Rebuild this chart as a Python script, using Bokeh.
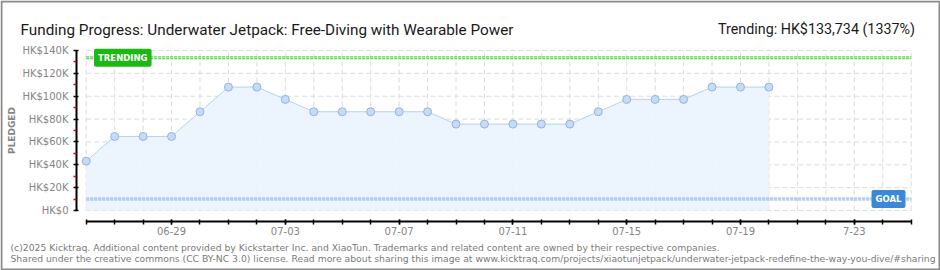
from bokeh.plotting import figure
from bokeh.models import Label, FixedTicker, ColumnDataSource
from bokeh.embed import file_html
from bokeh.resources import INLINE

# ---- data ----
dates = ["06-26", "06-27", "06-28", "06-29", "06-30", "07-01", "07-02", "07-03",
         "07-04", "07-05", "07-06", "07-07", "07-08", "07-09", "07-10", "07-11",
         "07-12", "07-13", "07-14", "07-15", "07-16", "07-17", "07-18", "07-19", "07-20"]
pledged = [43200, 64800, 64800, 64800, 86400, 108000, 108000, 97200,
           86400, 86400, 86400, 86400, 86400, 75600, 75600, 75600,
           75600, 75600, 86400, 97200, 97200, 97200, 108000, 108000, 108000]
n_days_axis = 30  # 06-26 .. 07-25
tick_label_days = [3, 7, 11, 15, 19, 23, 27]
tick_labels = ["06-29", "07-03", "07-07", "07-11", "07-15", "07-19", "7-23"]
y_ticks = [0, 20000, 40000, 60000, 80000, 100000, 120000, 140000]
y_tick_labels = ["HK$0", "HK$20K", "HK$40K", "HK$60K", "HK$80K", "HK$100K", "HK$120K", "HK$140K"]
goal = 10000
trending = 133734
title_text = "Funding Progress: Underwater Jetpack: Free-Diving with Wearable Power"
trend_text = "Trending:  HK$133,734 (1337%)"
footer1 = ("(c)2025 Kicktraq. Additional content provided by Kickstarter Inc. and XiaoTun. "
           "Trademarks and related content are owned by their respective companies.")
footer2 = ("Shared under the creative commons (CC BY-NC 3.0) license. Read more about sharing this "
           "image at www.kicktraq.com/projects/xiaotunjetpack/underwater-jetpack-redefine-the-way-you-dive/#sharing")

# ---- geometry (pixel mapping) ----
W, H = 940, 270
X0, DX = 85.7, 28.448            # pixel of day 0, px per day
Y0, DY = 210.0, 1.142857 / 1000  # pixel of HK$0, px per HK$

def dx(px):
    return (px - X0) / DX

def dy(py):
    return (Y0 - py) / DY

p = figure(width=W, height=H, output_backend="svg", toolbar_location=None,
           x_range=(dx(0), dx(W)), y_range=(dy(H), dy(0)),
           min_border=0, min_border_left=0, min_border_right=0,
           min_border_top=0, min_border_bottom=0)
p.outline_line_color = None
p.xgrid.visible = False
p.ygrid.visible = False
p.background_fill_color = "white"
p.border_fill_color = "white"

days = list(range(len(dates)))
all_days = list(range(n_days_axis))

# outer border of the image
p.quad(left=[dx(1)], right=[dx(W - 1)], bottom=[dy(H - 1)], top=[dy(1)],
       fill_color=None, line_color="#8a8a8a", line_width=2)

# grid
p.segment(x0=all_days, y0=[y_ticks[0]] * n_days_axis, x1=all_days, y1=[y_ticks[-1]] * n_days_axis,
          line_color="#dcdcdc", line_width=1, line_dash="5 3")
p.segment(x0=[0] * len(y_ticks), y0=y_ticks, x1=[n_days_axis - 1] * len(y_ticks), y1=y_ticks,
          line_color="#dcdcdc", line_width=1, line_dash="5 3")

# area, line, points
src = ColumnDataSource(dict(x=days, y=pledged, z=[0] * len(days)))
p.varea(x="x", y1="z", y2="y", source=src, fill_color="#eaf3fd", fill_alpha=0.9)
p.line(x="x", y="y", source=src, line_color="#b3d2f3", line_width=1)

# goal and trending lines
p.line(x=[0, n_days_axis - 1], y=[goal, goal], line_color="#8fb8ea", line_width=3, line_dash="3 1")
p.line(x=[0, n_days_axis - 1], y=[goal, goal], line_color="#d5e6f8", line_width=1, line_dash="3 1")
p.line(x=[0, n_days_axis - 1], y=[trending, trending], line_color="#5fd14e", line_width=3, line_dash="3 1")
p.line(x=[0, n_days_axis - 1], y=[trending, trending], line_color="#b6ecac", line_width=1, line_dash="3 1")

p.scatter(x="x", y="y", source=src, size=8, fill_color="#c4dcf7", line_color="#95b4da", line_width=1)

# axes (placed at fixed data locations inside the full-canvas frame)
xa = p.xaxis[0]
xa.fixed_location = dy(221)
xa.ticker = FixedTicker(ticks=tick_label_days, minor_ticks=all_days)
xa.major_label_overrides = {d: t for d, t in zip(tick_label_days, tick_labels)}
xa.bounds = (0, n_days_axis - 1)
xa.axis_line_color = "black"
xa.axis_line_width = 2
xa.major_tick_line_color = "black"
xa.minor_tick_line_color = "black"
xa.major_tick_line_width = 1.5
xa.minor_tick_line_width = 1.5
xa.major_tick_in = 2
xa.major_tick_out = 3
xa.minor_tick_in = 2
xa.minor_tick_out = 3
xa.major_label_standoff = 2
xa.major_label_text_font = "DejaVu Sans"
xa.major_label_text_font_size = "10px"
xa.major_label_text_color = "#858585"

ya = p.yaxis[0]
ya.fixed_location = dx(76)
ya.ticker = FixedTicker(ticks=y_ticks, minor_ticks=[v + 10000 for v in y_ticks[:-1]])
ya.major_label_overrides = {v: t for v, t in zip(y_ticks, y_tick_labels)}
ya.bounds = (y_ticks[0], y_ticks[-1])
ya.axis_line_color = "black"
ya.axis_line_width = 2
ya.major_tick_line_color = "black"
ya.major_tick_line_width = 1.5
ya.major_tick_in = 2
ya.major_tick_out = 3
ya.minor_tick_line_color = "#e00000"
ya.minor_tick_line_width = 1.5
ya.minor_tick_in = 0
ya.minor_tick_out = 3
ya.major_label_standoff = 5
ya.major_label_text_font = "DejaVu Sans"
ya.major_label_text_font_size = "10px"
ya.major_label_text_color = "#858585"
ya.axis_label = "PLEDGED"
ya.axis_label_text_font = "DejaVu Sans"
ya.axis_label_text_font_size = "9px"
ya.axis_label_text_font_style = "bold"
ya.axis_label_text_color = "#858585"
ya.axis_label_standoff = 2

# badges
p.add_layout(Label(x=dx(93.5), y=trending, text="TRENDING", text_color="white",
                   text_font="DejaVu Sans", text_font_size="8.5px", text_font_style="bold",
                   text_baseline="middle", text_align="left",
                   background_fill_color="#1cb814", padding=4, border_radius=2))
p.add_layout(Label(x=dx(905), y=goal, text="GOAL", text_color="white",
                   text_font="DejaVu Sans", text_font_size="8.5px", text_font_style="bold",
                   text_baseline="middle", text_align="right",
                   background_fill_color="#3c88d8", padding=4, border_radius=2))

# titles / footer
p.add_layout(Label(x=dx(20), y=dy(29), text=title_text, text_color="#1a1a1a",
                   text_font="Roboto", text_font_size="15.3px",
                   text_baseline="alphabetic", text_align="left"))
p.add_layout(Label(x=dx(918), y=dy(28), text=trend_text, text_color="#1a1a1a",
                   text_font="Roboto", text_font_size="14.3px",
                   text_baseline="alphabetic", text_align="right"))
p.add_layout(Label(x=dx(10), y=dy(247), text=footer1, text_color="#7a7a7a",
                   text_font="DejaVu Sans", text_font_size="9.25px",
                   text_baseline="alphabetic", text_align="left"))
p.add_layout(Label(x=dx(10), y=dy(258), text=footer2, text_color="#7a7a7a",
                   text_font="DejaVu Sans", text_font_size="9.25px",
                   text_baseline="alphabetic", text_align="left"))

open("out.html", "w").write(file_html(p, INLINE))
